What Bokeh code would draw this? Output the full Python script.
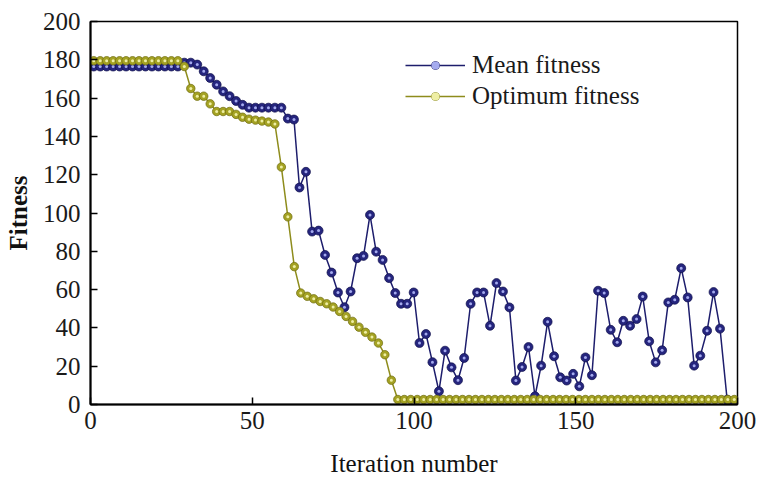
from bokeh.plotting import figure
from bokeh.models import Range1d, Legend, LegendItem, FixedTicker
from bokeh.embed import file_html
from bokeh.resources import INLINE

# ---- data ----
# Mean fitness: iteration positions and values
mean_iter = [1, 3, 5, 7, 9, 11, 13, 15, 17, 19, 21, 23, 25, 27, 29, 31, 33, 35, 37, 39,
             41, 43, 45, 47, 49, 51, 53, 55, 57, 59,
             61.0, 62.9, 64.6, 66.6, 68.5, 70.5, 72.5, 74.5, 76.5, 78.5,
             80.4, 82.4, 84.4, 86.4, 88.3, 90.3, 92.3, 94.2, 96.0, 97.9,
             99.9, 101.7, 103.7, 105.7, 107.7, 109.6, 111.6, 113.6, 115.5, 117.5,
             119.5, 121.5, 123.5, 125.5, 127.5, 129.5, 131.5, 133.4, 135.4, 137.4,
             139.3, 141.3, 143.3, 145.2, 147.2, 149.2, 151.1, 153.0, 155.0, 156.9,
             158.8, 160.8, 162.8, 164.7, 166.8, 168.8, 170.7, 172.7, 174.7, 176.7,
             178.6, 180.6, 182.6, 184.6, 186.6, 188.5, 190.6, 192.6, 194.6, 196.8,
             199.0]
mean_fitness = [176.5, 176.5, 176.5, 176.5, 176.5, 176.5, 176.5, 176.5, 176.5, 176.5,
                176.5, 176.5, 176.5, 176.5, 178.5, 178.5, 177.5, 174.0, 170.5, 167.0,
                163.5, 161.0, 158.5, 156.5, 155.0, 155.0, 155.0, 155.0, 155.0, 155.0,
                149.3, 148.8, 113.3, 121.5, 90.3, 90.8, 78.1, 68.9, 58.5, 50.8,
                59.0, 76.4, 77.6, 99.0, 79.8, 75.5, 66.0, 58.2, 52.6, 52.6,
                58.5, 32.1, 36.8, 22.1, 6.9, 28.1, 19.4, 12.7, 24.3, 52.6,
                58.5, 58.5, 41.1, 63.4, 59.0, 50.7, 12.5, 19.6, 30.0, 4.3,
                20.3, 43.2, 25.2, 14.2, 12.5, 16.0, 9.5, 24.6, 15.3, 59.4,
                58.2, 39.0, 32.5, 43.7, 41.1, 44.6, 56.4, 33.0, 22.0, 28.3,
                53.3, 54.7, 71.2, 55.9, 20.3, 25.5, 38.5, 58.7, 39.6, 2.5,
                1.7]

# Optimum fitness
opt_iter = [1, 3, 5, 7, 9, 11, 13, 15, 17, 19, 21, 23, 25, 27, 29, 31, 33, 35, 37, 39,
            41, 43, 45, 47, 49, 51, 53, 55, 57, 59, 61, 63, 65, 67, 69, 71, 73, 75, 77, 79,
            81, 83, 85, 87, 89, 91, 93, 95, 97, 99, 101, 103, 105, 107, 109, 111, 113, 115, 117, 119,
            121, 123, 125, 127, 129, 131, 133, 135, 137, 139, 141, 143, 145, 147, 149, 151, 153, 155, 157, 159,
            161, 163, 165, 167, 169, 171, 173, 175, 177, 179, 181, 183, 185, 187, 189, 191, 193, 195, 197, 199]
optimum_fitness = [179.5, 179.5, 179.5, 179.5, 179.5, 179.5, 179.5, 179.5, 179.5, 179.5,
                   179.5, 179.5, 179.5, 179.5, 176.5, 165.0, 161.0, 161.0, 157.0, 153.0,
                   153.0, 153.0, 151.5, 150.0, 149.0, 148.5, 148.0, 147.5, 146.5, 124.0,
                   98.0, 72.0, 58.2, 56.5, 55.2, 53.8, 52.6, 50.9, 48.6, 46.0,
                   43.4, 40.4, 37.7, 35.2, 32.1, 26.0, 12.7, 2.6, 2.6, 2.6,
                   2.6, 2.6, 2.6, 2.6, 2.6, 2.6, 2.6, 2.6, 2.6, 2.6,
                   2.6, 2.6, 2.6, 2.6, 2.6, 2.6, 2.6, 2.6, 2.6, 2.6,
                   2.6, 2.6, 2.6, 2.6, 2.6, 2.6, 2.6, 2.6, 2.6, 2.6,
                   2.6, 2.6, 2.6, 2.6, 2.6, 2.6, 2.6, 2.6, 2.6, 2.6,
                   2.6, 2.6, 2.6, 2.6, 2.6, 2.6, 2.6, 2.6, 2.6, 2.6]

x_ticks = [0, 50, 100, 150, 200]
y_ticks = [0, 20, 40, 60, 80, 100, 120, 140, 160, 180, 200]

FONT = "Liberation Serif"

p = figure(width=760, height=479, output_backend="svg", toolbar_location=None,
           x_range=Range1d(0, 200), y_range=Range1d(0, 200),
           min_border_left=90, min_border_right=23, min_border_top=21, min_border_bottom=74)

p.background_fill_color = "white"
p.border_fill_color = "white"
p.outline_line_color = "black"
p.outline_line_width = 1.5
p.grid.visible = False

for ax in (p.xaxis[0], p.yaxis[0]):
    ax.axis_line_width = 2
    ax.axis_line_color = "black"
    ax.major_tick_in = 7
    ax.major_tick_out = 0
    ax.major_tick_line_width = 1.5
    ax.minor_tick_line_color = None
    ax.major_label_text_font = FONT
    ax.major_label_text_font_size = "25px"
    ax.major_label_text_color = "#1a1a1a"
    ax.axis_label_text_font = FONT
    ax.axis_label_text_font_size = "25px"
    ax.axis_label_text_color = "#111111"

p.xaxis.ticker = FixedTicker(ticks=x_ticks)
p.yaxis.ticker = FixedTicker(ticks=y_ticks)
p.xaxis.major_label_standoff = 7
p.yaxis.major_label_standoff = 10
p.xaxis.axis_label = "Iteration number"
p.xaxis.axis_label_text_font_style = "normal"
p.xaxis.axis_label_standoff = 18
p.yaxis.axis_label = "Fitness"
p.yaxis.axis_label_text_font_style = "bold"
p.yaxis.axis_label_standoff = 8

BLUE_LINE = "#1d1d6c"
BLUE_FILL = "#25257e"
BLUE_HI = "#a4aaee"
YEL_LINE = "#8e8c1c"
YEL_FILL = "#a4a223"
YEL_HI = "#eeeea4"

b_line = p.line(mean_iter, mean_fitness, line_color=BLUE_LINE, line_width=1.5)
b_pts = p.scatter(mean_iter, mean_fitness, size=9, fill_color=BLUE_FILL,
                  line_color="#10104a", line_width=0.7)
b_hi = p.scatter(mean_iter, mean_fitness, size=3, fill_color=BLUE_HI, line_color=None)

y_line = p.line(opt_iter, optimum_fitness, line_color=YEL_LINE, line_width=1.5)
y_pts = p.scatter(opt_iter, optimum_fitness, size=8.5, fill_color=YEL_FILL,
                  line_color="#6e6c10", line_width=0.7)
y_hi = p.scatter(opt_iter, optimum_fitness, size=3, fill_color=YEL_HI, line_color=None)

legend = Legend(items=[
    LegendItem(label="Mean fitness", renderers=[b_line, b_pts, b_hi]),
    LegendItem(label="Optimum fitness", renderers=[y_line, y_pts, y_hi]),
], location=(315, 294))
legend.padding = 0
legend.margin = 0
legend.spacing = 3
legend.glyph_width = 60
legend.glyph_height = 20
legend.label_standoff = 7
legend.label_text_font = FONT
legend.label_text_font_size = "25px"
legend.label_text_color = "#1a1a1a"
legend.border_line_color = None
legend.background_fill_alpha = 0
p.add_layout(legend)

open("out.html", "w").write(file_html(p, INLINE))
